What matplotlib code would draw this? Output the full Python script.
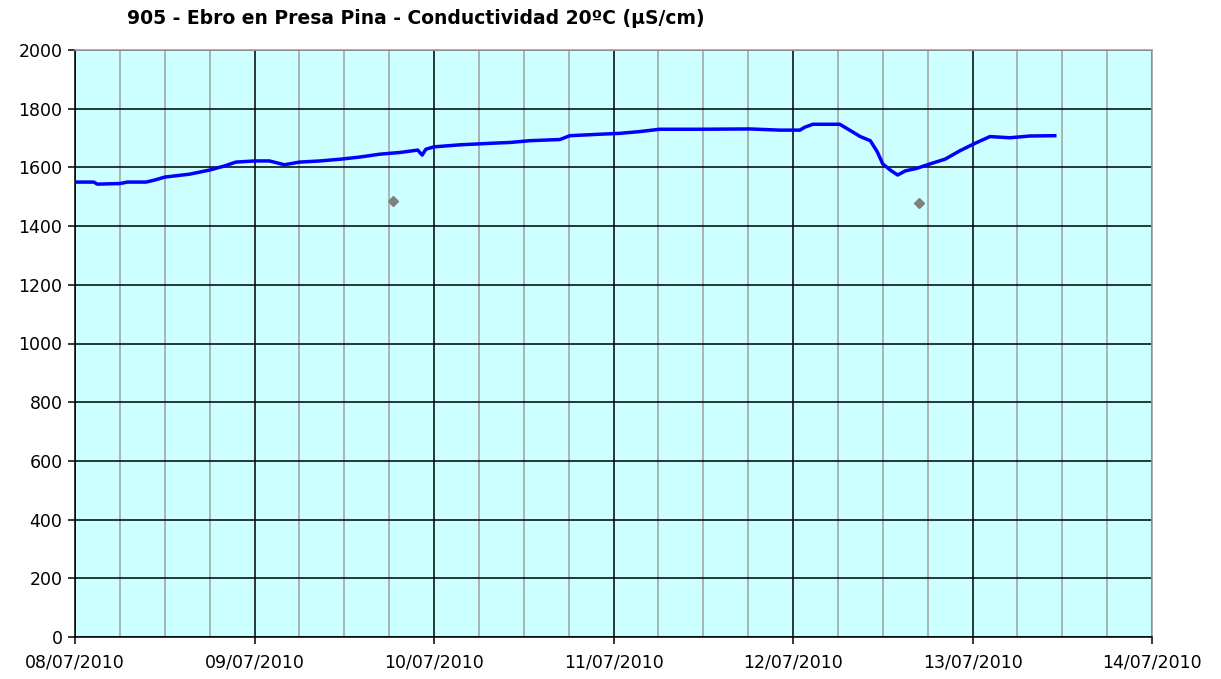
import matplotlib
matplotlib.use("Agg")
import matplotlib.pyplot as plt
import matplotlib.dates as mdates
import numpy as np
import pandas as pd

title = "905 - Ebro en Presa Pina - Conductividad 20ºC (µS/cm)"

# conductivity readings (approximate)
times = [
    "2010-07-08 00:00", "2010-07-08 02:30", "2010-07-08 03:00", "2010-07-08 06:00",
    "2010-07-08 07:00", "2010-07-08 09:30", "2010-07-08 10:40", "2010-07-08 12:00",
    "2010-07-08 15:20", "2010-07-08 18:00", "2010-07-08 20:00", "2010-07-08 21:30",
    "2010-07-09 00:00", "2010-07-09 02:00", "2010-07-09 04:00", "2010-07-09 06:00",
    "2010-07-09 08:45", "2010-07-09 11:30", "2010-07-09 14:00", "2010-07-09 16:45",
    "2010-07-09 19:30", "2010-07-09 21:50", "2010-07-09 22:25", "2010-07-09 22:55",
    "2010-07-10 00:00", "2010-07-10 03:30", "2010-07-10 07:30", "2010-07-10 10:10",
    "2010-07-10 12:50", "2010-07-10 16:50", "2010-07-10 18:10", "2010-07-10 22:10",
    "2010-07-11 00:50", "2010-07-11 03:30", "2010-07-11 06:10", "2010-07-11 11:35",
    "2010-07-11 18:15", "2010-07-11 22:15", "2010-07-12 00:55", "2010-07-12 01:35",
    "2010-07-12 02:40", "2010-07-12 06:15", "2010-07-12 06:55", "2010-07-12 09:00",
    "2010-07-12 10:20", "2010-07-12 11:15", "2010-07-12 12:00", "2010-07-12 13:00",
    "2010-07-12 14:00", "2010-07-12 15:00", "2010-07-12 16:35", "2010-07-12 18:20",
    "2010-07-12 20:20", "2010-07-12 22:20", "2010-07-13 00:20", "2010-07-13 02:20",
    "2010-07-13 05:00", "2010-07-13 07:40", "2010-07-13 11:00",
]
values = [
    1550, 1550, 1543, 1545,
    1550, 1550, 1557, 1567,
    1577, 1591, 1605, 1618,
    1622, 1622, 1609, 1618,
    1622, 1628, 1635, 1645,
    1651, 1659, 1642, 1662,
    1670, 1677, 1682, 1685,
    1691, 1695, 1708, 1713,
    1716, 1722, 1730, 1730,
    1731, 1727, 1727, 1737,
    1747, 1747, 1737, 1705,
    1691, 1654, 1612, 1591,
    1574, 1588, 1597, 1612,
    1628, 1657, 1682, 1705,
    1701, 1707, 1708,
]

# isolated readings drawn as grey diamonds
outlier_times = ["2010-07-09 18:30", "2010-07-12 16:50"]
outlier_values = [1485, 1479]

x_start, x_end = "2010-07-08", "2010-07-14"
y_max = 2000

t = pd.to_datetime(times)
to = pd.to_datetime(outlier_times)

fig = plt.figure(figsize=(12.21, 6.79), dpi=100)
ax = fig.add_axes([75 / 1221, 1 - 637 / 679, (1152 - 75) / 1221, (637 - 50) / 679])
ax.set_facecolor("#CCFFFF")

ax.plot(t, values, color="#0000FF", linewidth=2.5, zorder=3)
ax.plot(to, outlier_values, linestyle="none", marker="D", markersize=5,
        color="#808080", zorder=3)

ax.set_xlim(pd.Timestamp(x_start), pd.Timestamp(x_end))
ax.set_ylim(0, y_max)
ax.set_yticks(np.arange(0, y_max + 1, 200))

ax.xaxis.set_major_locator(mdates.DayLocator())
ax.xaxis.set_major_formatter(mdates.DateFormatter("%d/%m/%Y"))
ax.xaxis.set_minor_locator(mdates.HourLocator(byhour=[6, 12, 18]))

ax.grid(which="major", axis="both", color="black", linewidth=1.1, zorder=1)
ax.grid(which="minor", axis="x", color="#A0A0A0", linewidth=1.1, zorder=1)
ax.set_axisbelow(True)

for side in ("top", "right"):
    ax.spines[side].set_color("#A0A0A0")
    ax.spines[side].set_linewidth(1.2)
for side in ("left", "bottom"):
    ax.spines[side].set_color("black")
    ax.spines[side].set_linewidth(1.1)

ax.tick_params(axis="both", which="major", direction="out", length=5,
               width=1.1, labelsize=12.5, colors="black")
ax.tick_params(axis="x", which="minor", length=0)
ax.tick_params(axis="x", pad=7)
ax.tick_params(axis="y", pad=4)

fig.text(127 / 1221, 1 - 19 / 679, title, fontsize=13.5, fontweight="bold",
         ha="left", va="center")

fig.savefig("out.png", dpi=100)
